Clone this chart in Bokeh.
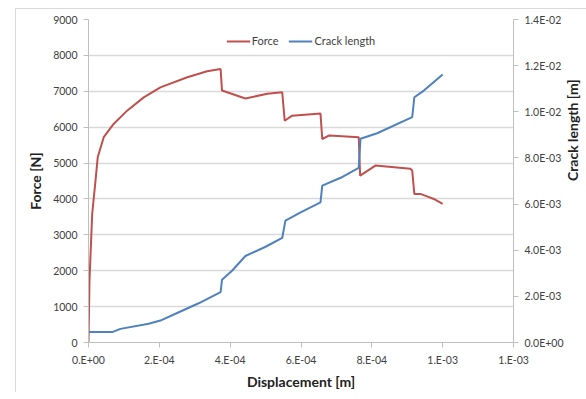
import math
from bokeh.plotting import figure
from bokeh.models import (Range1d, LinearAxis, FixedTicker, Legend, LegendItem,
                          InlineStyleSheet)
from bokeh.embed import file_html
from bokeh.resources import INLINE

# ---- data ----
disp_force = [0, 2.8e-6, 1.04e-5, 1.98e-5, 2.6e-5, 4.3e-5, 7.1e-5, 1.09e-4, 1.56e-4,
              2.03e-4, 2.79e-4, 3.35e-4, 3.73e-4, 3.77e-4, 4.43e-4, 5.05e-4, 5.47e-4,
              5.54e-4, 5.75e-4, 6.55e-4, 6.6e-4, 6.8e-4, 7.63e-4, 7.67e-4, 8.1e-4,
              9.09e-4, 9.14e-4, 9.2e-4, 9.37e-4, 9.56e-4, 9.75e-4, 1.0e-3]
force = [0, 1730, 3580, 4510, 5160, 5720, 6090, 6460, 6830, 7110, 7390, 7560, 7620,
         7020, 6800, 6930, 6970, 6180, 6320, 6380, 5670, 5770, 5720, 4650, 4930,
         4840, 4790, 4140, 4140, 4070, 4000, 3860]

disp_crack = [0, 6.7e-5, 9.0e-5, 1.70e-4, 2.03e-4, 2.55e-4, 3.11e-4, 3.73e-4, 3.77e-4,
              4.06e-4, 4.43e-4, 5.0e-4, 5.47e-4, 5.56e-4, 5.99e-4, 6.55e-4, 6.6e-4,
              7.12e-4, 7.63e-4, 7.68e-4, 8.15e-4, 9.14e-4, 9.2e-4, 9.47e-4, 1.0e-3]
crack = [4.5e-4, 4.5e-4, 5.9e-4, 8.1e-4, 9.5e-4, 1.31e-3, 1.70e-3, 2.18e-3, 2.72e-3,
         3.12e-3, 3.75e-3, 4.15e-3, 4.53e-3, 5.28e-3, 5.64e-3, 6.07e-3, 6.8e-3,
         7.14e-3, 7.57e-3, 8.83e-3, 9.07e-3, 9.77e-3, 1.063e-2, 1.092e-2, 1.162e-2]

x_ticks = [0, 2e-4, 4e-4, 6e-4, 8e-4, 1e-3, 1.2e-3]
x_tick_labels = ["0.E+00", "2.E-04", "4.E-04", "6.E-04", "8.E-04", "1.E-03", "1.E-03"]
y_ticks = [0, 1000, 2000, 3000, 4000, 5000, 6000, 7000, 8000, 9000]
y2_ticks = [0, 0.002, 0.004, 0.006, 0.008, 0.010, 0.012, 0.014]
y2_tick_labels = ["0.0E+00", "2.0E-03", "4.0E-03", "6.0E-03", "8.0E-03",
                  "1.0E-02", "1.2E-02", "1.4E-02"]

RED = "#C0504D"
BLUE = "#4F81BD"
AXIS_GRAY = "#BFBFBF"
GRID = "#D9D9D9"
TICK_FONT = "Lato"
TICK_COLOR = "#404040"

p = figure(width=578, height=391, output_backend="svg", toolbar_location=None,
           x_range=Range1d(0, 1.2e-3), y_range=Range1d(0, 9000),
           frame_width=425, frame_height=323,
           min_border_left=88, min_border_right=65, min_border_top=19,
           min_border_bottom=49)
p.extra_y_ranges = {"crack": Range1d(0, 0.014)}
p.outline_line_color = None
p.background_fill_color = "white"
p.border_fill_color = "white"

r_force = p.line(disp_force, force, line_color=RED, line_width=2)
r_crack = p.line(disp_crack, crack, line_color=BLUE, line_width=2, y_range_name="crack")

# x axis
xa = p.xaxis[0]
xa.ticker = FixedTicker(ticks=x_ticks)
xa.major_label_overrides = {t: l for t, l in zip(x_ticks, x_tick_labels)}
xa.axis_label = "Displacement [m]"

# left axis
ya = p.yaxis[0]
ya.ticker = FixedTicker(ticks=y_ticks)
ya.axis_label = "Force [N]"

# right axis
ra = LinearAxis(y_range_name="crack", ticker=FixedTicker(ticks=y2_ticks),
                axis_label="Crack length [m]")
ra.major_label_overrides = {t: l for t, l in zip(y2_ticks, y2_tick_labels)}
try:
    ra.axis_label_orientation = math.pi / 2
except Exception:
    pass
p.add_layout(ra, "right")

for ax in [xa, ya, ra]:
    ax.axis_line_color = AXIS_GRAY
    ax.major_tick_line_color = AXIS_GRAY
    ax.major_tick_out = 5
    ax.major_tick_in = 0
    ax.minor_tick_line_color = None
    ax.major_label_text_font = TICK_FONT
    ax.major_label_text_font_size = "10.5px"
    ax.major_label_text_color = TICK_COLOR
    ax.axis_label_text_font = "Lato"
    ax.axis_label_text_font_style = "bold"
    ax.axis_label_text_font_size = "14px"
    ax.axis_label_text_color = "#222222"

xa.major_label_standoff = 6
xa.axis_label_standoff = 4
ya.major_label_standoff = 6
ya.axis_label_standoff = 6
ra.major_label_standoff = 6
ra.axis_label_standoff = 6

p.xgrid.grid_line_color = None
p.ygrid.grid_line_color = GRID
p.ygrid.grid_line_width = 1.5
p.ygrid.ticker = FixedTicker(ticks=y_ticks)

legend = Legend(items=[LegendItem(label="Force", renderers=[r_force]),
                       LegendItem(label="Crack length", renderers=[r_crack])],
                orientation="horizontal", location="top_center",
                background_fill_alpha=0, border_line_color=None,
                label_text_font="Lato", label_text_font_size="11px",
                label_text_color=TICK_COLOR, glyph_width=24, glyph_height=10,
                spacing=10, label_standoff=2, margin=15, padding=0)
p.add_layout(legend)

# outer chart border (decorative frame around the chart area)
p.stylesheets = [InlineStyleSheet(css="""
:host { overflow: hidden; }
:host::after { content: ''; position: absolute; left: 15px; top: 8px;
  right: -6px; bottom: -6px; border: 1px solid #D9D9D9; pointer-events: none; }
""")]

open("out.html", "w").write(file_html(p, INLINE))
